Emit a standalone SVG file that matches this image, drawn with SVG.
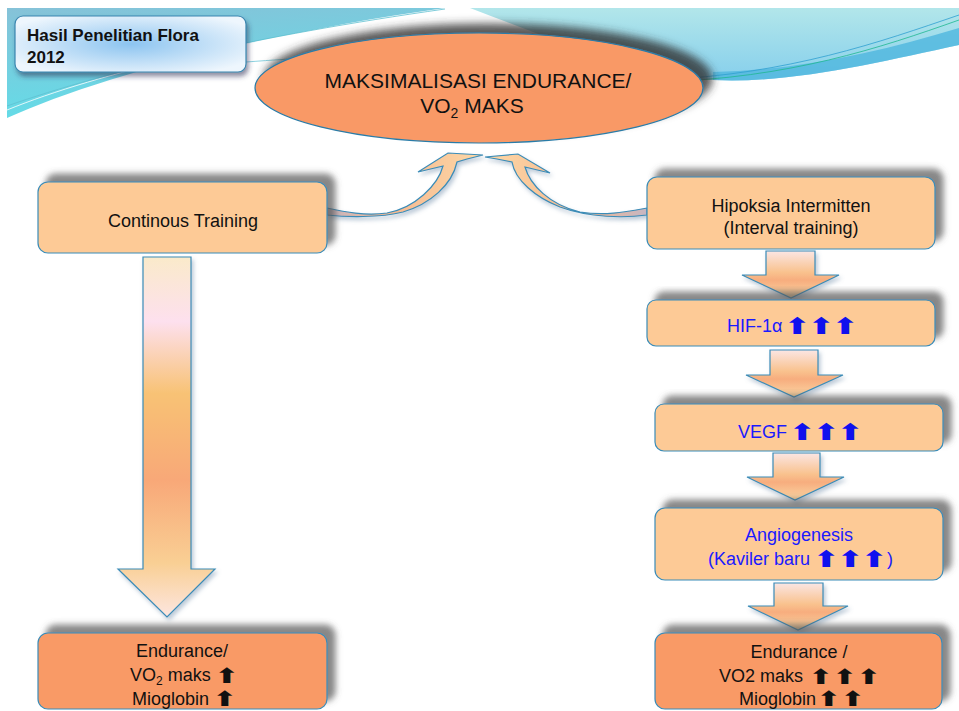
<svg xmlns="http://www.w3.org/2000/svg" width="959" height="711" viewBox="0 0 959 711">
<defs>
<style>
.box{fill:#fdca96;stroke:#3a8cb8;stroke-width:1.2}
.boxo{fill:#f99a66;stroke:#3a8cb8;stroke-width:1.2}
.t{font-family:"Liberation Sans",Arial,sans-serif;font-size:18px;fill:#111;text-anchor:middle}
.s{font-family:"Liberation Sans",Arial,sans-serif;font-size:18px;fill:#111}
.b{fill:#1a1aff}
.up{font-family:"DejaVu Sans",sans-serif;font-weight:bold;font-size:23px;text-anchor:middle;fill:#111}
.ups{font-size:21px}
.upb{fill:#1010ee}
.arr{stroke:#3a8cb8;stroke-width:1.2}
</style>
<filter id="sh" x="-10%" y="-30%" width="125%" height="160%">
<feDropShadow dx="8" dy="-8" stdDeviation="3" flood-color="#555" flood-opacity="0.7"/>
</filter>
<filter id="she" x="-10%" y="-30%" width="125%" height="160%">
<feDropShadow dx="9" dy="-9" stdDeviation="4" flood-color="#333" flood-opacity="0.8"/>
</filter>
<filter id="sh2" x="-10%" y="-10%" width="125%" height="130%">
<feDropShadow dx="2" dy="3" stdDeviation="2" flood-color="#6a8aa8" flood-opacity="0.45"/>
</filter>
<filter id="sht" x="-10%" y="-20%" width="125%" height="150%">
<feDropShadow dx="2" dy="4" stdDeviation="2.5" flood-color="#335" flood-opacity="0.55"/>
</filter>
<linearGradient id="bigg" x1="0" y1="257" x2="0" y2="617" gradientUnits="userSpaceOnUse">
<stop offset="0" stop-color="#faeaca"/>
<stop offset="0.18" stop-color="#fde0ee"/>
<stop offset="0.38" stop-color="#f8c274"/>
<stop offset="0.62" stop-color="#f8a878"/>
<stop offset="0.85" stop-color="#f9cf94"/>
<stop offset="1" stop-color="#fde6e0"/>
</linearGradient>
<linearGradient id="smg" x1="0" y1="0" x2="0" y2="1">
<stop offset="0" stop-color="#fbe6e4"/>
<stop offset="0.45" stop-color="#f9c28e"/>
<stop offset="0.62" stop-color="#f7ad7e"/>
<stop offset="1" stop-color="#fbd6a4"/>
</linearGradient>
<linearGradient id="cl" x1="327" y1="0" x2="483" y2="0" gradientUnits="userSpaceOnUse">
<stop offset="0" stop-color="#c6b6c2"/>
<stop offset="0.4" stop-color="#f6b890"/>
<stop offset="1" stop-color="#fdd8a6"/>
</linearGradient>
<linearGradient id="cr" x1="647" y1="0" x2="485" y2="0" gradientUnits="userSpaceOnUse">
<stop offset="0" stop-color="#c6b6c2"/>
<stop offset="0.4" stop-color="#f6b890"/>
<stop offset="1" stop-color="#fdd8a6"/>
</linearGradient>
<radialGradient id="tg" cx="0.5" cy="0.5" r="0.6">
<stop offset="0" stop-color="#8cc4f0"/>
<stop offset="1" stop-color="#eef6fd"/>
</radialGradient>
<linearGradient id="lteal" x1="0" y1="0" x2="0.3" y2="1">
<stop offset="0" stop-color="#86c2d8"/>
<stop offset="1" stop-color="#62dde8"/>
</linearGradient>
<linearGradient id="rsw" x1="0" y1="0" x2="0" y2="1">
<stop offset="0" stop-color="#b2e6ea"/>
<stop offset="1" stop-color="#86cfec"/>
</linearGradient>
</defs>

<g id="background">
<path d="M7,8 L445,8 C250,35 90,80 7,118 Z" fill="url(#lteal)"/>
<path d="M7,110 C100,72 250,38 445,10" fill="none" stroke="#ffffff" stroke-width="1" opacity="0.8"/>
<path d="M7,106 C110,70 255,36 445,9" fill="none" stroke="#5fc0d0" stroke-width="0.8"/>
<path d="M470,8 L959,8 L959,45 C880,62 790,84 713,80 C640,76 560,42 470,8 Z" fill="url(#rsw)"/>
<path d="M959,28 C880,52 800,70 713,72 L713,80 C790,84 880,62 959,45 Z" fill="#4fb6de" opacity="0.8"/>
<path d="M959,15 C880,42 790,74 660,80" fill="none" stroke="#2f9fd0" stroke-width="0.8"/>
<path d="M959,20 C880,48 790,78 660,82" fill="none" stroke="#20b890" stroke-width="0.8"/>
<path d="M246,62 C300,58 340,56 380,55" fill="none" stroke="#6fc6d8" stroke-width="0.8"/>
</g>

<g id="connectors">
<polygon class="arr" filter="url(#sh2)" fill="url(#bigg)" points="143,257 191,257 191,569 215,569 167,617 118,569 143,569"/>
<polygon class="arr" filter="url(#sh2)" fill="url(#smg)" points="766,251 815,251 815,275 839,275 791,298 742,275 766,275"/>
<polygon class="arr" filter="url(#sh2)" fill="url(#smg)" points="770,350 818,350 818,375 843,375 794,397 746,375 770,375"/>
<polygon class="arr" filter="url(#sh2)" fill="url(#smg)" points="773,453 820,453 820,477 844,477 795,500 747,477 773,477"/>
<polygon class="arr" filter="url(#sh2)" fill="url(#smg)" points="774,583 823,583 823,606 848,606 798,630 748,606 774,606"/>
<path class="arr" filter="url(#sh2)" fill="url(#cl)" d="M483,155 L448,153 L418,172 L443,166 C438,185 415,208 387,213 C365,216 345,212 327,208 L327,215 C345,217 380,218 403,212 C430,204 452,185 457,162 L467,159 Z"/>
<path class="arr" filter="url(#sh2)" fill="url(#cr)" d="M485,157 L518,154 L550,173 L525,167 C530,185 550,205 580,212 C605,216 625,212 647,208 L647,215 C625,218 590,218 560,207 C535,197 515,180 512,162 L497,159 Z"/>
</g>

<g id="title">
<rect x="15" y="16" width="231" height="56" rx="8" fill="url(#tg)" stroke="#3a86b0" stroke-width="1.2" filter="url(#sht)"/>
<text x="27" y="41" font-family="Liberation Sans,Arial,sans-serif" font-size="17" font-weight="bold" fill="#111">Hasil Penelitian Flora</text>
<text x="27" y="63" font-family="Liberation Sans,Arial,sans-serif" font-size="17" font-weight="bold" fill="#111">2012</text>
</g>

<g id="goal">
<ellipse cx="479" cy="88" rx="224" ry="55" fill="#f99966" stroke="#2a7ca8" stroke-width="1.2" filter="url(#she)"/>
<text class="t" x="478" y="88" style="font-size:21px">MAKSIMALISASI ENDURANCE/</text>
<text class="t" x="472" y="113" style="font-size:21px">VO<tspan style="font-size:14px" dy="5">2</tspan><tspan dy="-5"> MAKS</tspan></text>
</g>

<g id="continous">
<rect class="box" x="38" y="182" width="289" height="71" rx="10" filter="url(#sh)"/>
<text class="t" x="183" y="227">Continous Training</text>
</g>

<g id="endurance-left">
<rect class="boxo" x="38" y="633" width="289" height="76" rx="10" filter="url(#sh)"/>
<text class="t" x="182" y="657">Endurance/</text>
<text class="s" x="130" y="681">VO<tspan style="font-size:12px" dy="4">2</tspan><tspan dy="-4"> maks</tspan></text>
<text class="up ups" transform="translate(227,683) scale(1.35,1)">⬆</text>
<text class="s" x="132" y="705">Mioglobin</text>
<text class="up ups" transform="translate(225,706) scale(1.35,1)">⬆</text>
</g>

<g id="hipoksia">
<rect class="box" x="647" y="177" width="288" height="72" rx="10" filter="url(#sh)"/>
<text class="t" x="791" y="212">Hipoksia Intermitten</text>
<text class="t" x="791" y="234">(Interval training)</text>
</g>

<g id="hif">
<rect class="box" x="647" y="300" width="288" height="46" rx="9" filter="url(#sh)"/>
<text class="s b" x="727" y="332">HIF-1α</text>
<text class="up upb" transform="translate(797,334) scale(1.35,1)">⬆</text>
<text class="up upb" transform="translate(821,334) scale(1.35,1)">⬆</text>
<text class="up upb" transform="translate(845,334) scale(1.35,1)">⬆</text>
</g>

<g id="vegf">
<rect class="box" x="655" y="404" width="288" height="47" rx="9" filter="url(#sh)"/>
<text class="s b" x="738" y="438">VEGF</text>
<text class="up upb" transform="translate(802,440) scale(1.35,1)">⬆</text>
<text class="up upb" transform="translate(826,440) scale(1.35,1)">⬆</text>
<text class="up upb" transform="translate(850,440) scale(1.35,1)">⬆</text>
</g>

<g id="angio">
<rect class="box" x="655" y="508" width="288" height="72" rx="10" filter="url(#sh)"/>
<text class="t b" x="799" y="541">Angiogenesis</text>
<text class="s b" x="708" y="565">(Kaviler baru</text>
<text class="up upb" transform="translate(826,567) scale(1.35,1)">⬆</text>
<text class="up upb" transform="translate(850,567) scale(1.35,1)">⬆</text>
<text class="up upb" transform="translate(874,567) scale(1.35,1)">⬆</text>
<text class="s b" x="887" y="565">)</text>
</g>

<g id="endurance-right">
<rect class="boxo" x="655" y="633" width="287" height="76" rx="10" filter="url(#sh)"/>
<text class="t" x="799" y="658">Endurance /</text>
<text class="s" x="719" y="682">VO2 maks</text>
<text class="up ups" transform="translate(821,684) scale(1.35,1)">⬆</text>
<text class="up ups" transform="translate(845,684) scale(1.35,1)">⬆</text>
<text class="up ups" transform="translate(869,684) scale(1.35,1)">⬆</text>
<text class="s" x="739" y="705">Mioglobin</text>
<text class="up ups" transform="translate(829,706) scale(1.35,1)">⬆</text>
<text class="up ups" transform="translate(853,706) scale(1.35,1)">⬆</text>
</g>
</svg>
